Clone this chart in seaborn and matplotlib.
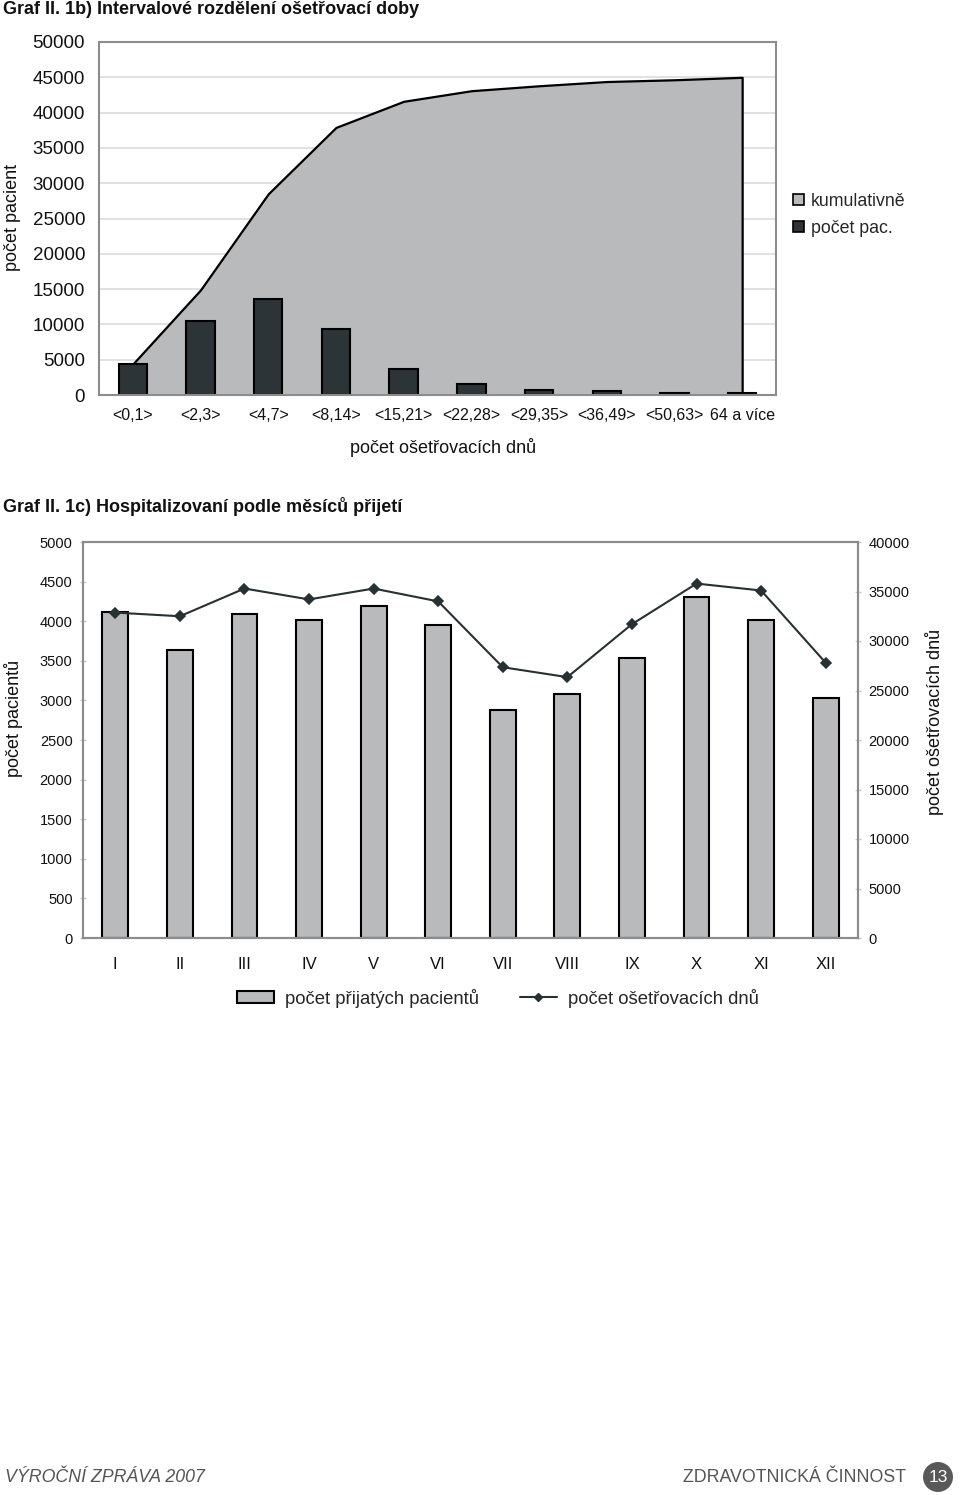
import numpy as np
import matplotlib
matplotlib.use("Agg")
import matplotlib.pyplot as plt
import seaborn as sns
from matplotlib.patches import Patch, Circle
from matplotlib.lines import Line2D
from matplotlib.transforms import Bbox, TransformedBbox

# ---------------- data ----------------
interval_labels = ["<0,1>", "<2,3>", "<4,7>", "<8,14>", "<15,21>", "<22,28>",
                   "<29,35>", "<36,49>", "<50,63>", "64 a více"]
patients_per_interval = [4400, 10500, 13600, 9400, 3700, 1500, 700, 600, 250, 350]
cumulative_patients = [4400, 14900, 28500, 37900, 41600, 43100, 43800, 44400, 44650, 45000]
y1_ticks = [0, 5000, 10000, 15000, 20000, 25000, 30000, 35000, 40000, 45000, 50000]

months = ["I", "II", "III", "IV", "V", "VI", "VII", "VIII", "IX", "X", "XI", "XII"]
admitted_patients = [4110, 3640, 4090, 4010, 4190, 3950, 2875, 3080, 3530, 4310, 4010, 3035]
care_days = [32870, 32500, 35300, 34200, 35300, 34000, 27350, 26350, 31700, 35800, 35100, 27800]
y2_left_ticks = [0, 500, 1000, 1500, 2000, 2500, 3000, 3500, 4000, 4500, 5000]
y2_right_ticks = [0, 5000, 10000, 15000, 20000, 25000, 30000, 35000, 40000]

# ---------------- style ----------------
sns.set_style("white")
plt.rcParams['font.family'] = ['Liberation Sans', 'DejaVu Sans']

W, H = 960, 1495
fig = plt.figure(figsize=(W / 100, H / 100), dpi=100)

def fx(px):
    return px / W

def fy(py):
    return 1 - py / H

FRAME = '#8c8c8c'
LIGHT = '#b8babc'
DARK = '#2c3437'

# ================= Chart 1 =================
fig.text(fx(3), fy(9), "Graf II. 1b) Intervalové rozdělení ošetřovací doby",
         fontsize=13, fontweight='bold', ha='left', va='center', color='#111111')

ax1 = fig.add_axes([fx(99), fy(395), fx(776) - fx(99), fy(42) - fy(395)])
pos1 = np.arange(len(interval_labels))
ax1.fill_between(pos1, cumulative_patients, 0, facecolor=LIGHT, edgecolor='black',
                 linewidth=1.6, zorder=1.5)
sns.barplot(x=interval_labels, y=patients_per_interval, ax=ax1, color=DARK,
            saturation=1, width=0.42, edgecolor='black', linewidth=1.5, zorder=2)
ax1.set_xlim(-0.5, len(interval_labels) - 0.5)
ax1.set_ylim(0, 50000)
ax1.set_yticks(y1_ticks)
ax1.set_yticklabels([str(v) for v in y1_ticks])
ax1.yaxis.grid(True, color='#dcdcdc', linewidth=1.2)
ax1.xaxis.grid(False)
ax1.set_axisbelow(True)
for s in ax1.spines.values():
    s.set_visible(True)
    s.set_color(FRAME)
    s.set_linewidth(1.5)
ax1.tick_params(axis='y', length=0, labelsize=13.5, pad=10, colors='#111111')
ax1.tick_params(axis='x', which='major', length=0, labelsize=11.5, pad=9, colors='#111111')
ax1.set_xticks(np.arange(-0.5, len(interval_labels), 1.0), minor=True)
ax1.tick_params(axis='x', which='minor', length=6, color=FRAME, direction='out', width=1)
ax1.set_ylabel("")
ax1.set_xlabel("počet ošetřovacích dnů", fontsize=13, color='#111111')
ax1.xaxis.set_label_coords((443 - 99) / 677, -(438 - 395) / 353)

# clipped y label (as in the original)
t = fig.text(fx(12), fy(271), "počet pacientů", rotation=90, fontsize=13,
             ha='center', va='bottom', color='#111111')
clip = TransformedBbox(Bbox([[0, fy(1495)], [fx(40), fy(164)]]), fig.transFigure)
t.set_clip_box(clip)
t.set_clip_on(True)

leg1_handles = [Patch(facecolor=LIGHT, edgecolor='black', linewidth=1.2),
                Patch(facecolor=DARK, edgecolor='black', linewidth=1.2)]
fig.legend(leg1_handles, ["kumulativně", "počet pac."], loc='upper left',
           bbox_to_anchor=(fx(793), fy(193)), frameon=False, fontsize=12.8,
           handlelength=0.6, handleheight=0.6, handletextpad=0.4,
           labelspacing=0.55, borderpad=0, borderaxespad=0)

# ================= Chart 2 =================
fig.text(fx(3), fy(506), "Graf II. 1c) Hospitalizovaní podle měsíců přijetí",
         fontsize=13, fontweight='bold', ha='left', va='center', color='#111111')

ax2 = fig.add_axes([fx(83), fy(938), fx(858) - fx(83), fy(542) - fy(938)])
sns.barplot(x=months, y=admitted_patients, ax=ax2, color=LIGHT, saturation=1,
            width=0.40, edgecolor='black', linewidth=1.5, zorder=2)
ax2.set_xlim(-0.5, len(months) - 0.5)
ax2.set_ylim(0, 5000)
ax2.set_yticks(y2_left_ticks)
ax2.set_yticklabels([str(v) for v in y2_left_ticks])
ax2.grid(False)
ax2.set_xlabel("")
ax2.set_ylabel("")

ax2r = ax2.twinx()
sns.pointplot(x=months, y=care_days, ax=ax2r, color='#263133', markers='D',
              errorbar=None, markersize=5, linewidth=1.5)
ax2r.set_ylim(0, 40000)
ax2r.set_yticks(y2_right_ticks)
ax2r.set_yticklabels([str(v) for v in y2_right_ticks])
ax2r.set_xlim(-0.5, len(months) - 0.5)
ax2r.grid(False)
ax2r.set_xlabel("")
ax2r.set_ylabel("")

for a in (ax2, ax2r):
    for s in a.spines.values():
        s.set_visible(True)
        s.set_color(FRAME)
        s.set_linewidth(1.5)

ax2.tick_params(axis='y', length=5, direction='inout', color='#c8c8c8', width=1,
                labelsize=10.5, pad=5, colors='#111111')
ax2.tick_params(axis='y', color='#c8c8c8')
ax2r.tick_params(axis='y', length=5, direction='inout', width=1,
                 labelsize=10.5, pad=5, labelcolor='#111111', color='#c8c8c8')
ax2.tick_params(axis='x', which='major', length=0, labelsize=12, pad=14, colors='#111111')
ax2.set_xticks(np.arange(-0.5, len(months), 1.0), minor=True)
ax2.tick_params(axis='x', which='minor', length=8, direction='inout', color='#c8c8c8', width=1)

fig.text(fx(14), fy(718), "počet pacientů", rotation=90, fontsize=13,
         ha='center', va='center', color='#111111')
fig.text(fx(935), fy(722), "počet ošetřovacích dnů", rotation=90, fontsize=13,
         ha='center', va='center', color='#111111')

leg2_handles = [Patch(facecolor=LIGHT, edgecolor='black', linewidth=1.5),
                Line2D([0], [0], color='#263133', marker='D', markersize=4.5, linewidth=1.5)]
fig.legend(leg2_handles, ["počet přijatých pacientů", "počet ošetřovacích dnů"],
           loc='center', bbox_to_anchor=(fx(498), fy(998)), ncol=2, frameon=False,
           fontsize=13.3, handlelength=2.0, handleheight=0.55, handletextpad=0.6,
           columnspacing=2.2, borderpad=0)

# ================= footer =================
fig.text(fx(5), fy(1477), "VÝROČNÍ ZPRÁVA 2007", fontsize=12.8, style='italic',
         color='#555555', ha='left', va='center')
fig.text(fx(906), fy(1477), "ZDRAVOTNICKÁ ČINNOST", fontsize=12.8,
         color='#555555', ha='right', va='center')
circ = Circle((938, H - 1477), 15, transform=None, facecolor='#595959',
              edgecolor='none')
fig.patches.append(circ)
fig.text(fx(938), fy(1477), "13", fontsize=12.5, color='white', ha='center', va='center')

fig.savefig("out.png", dpi=100)
